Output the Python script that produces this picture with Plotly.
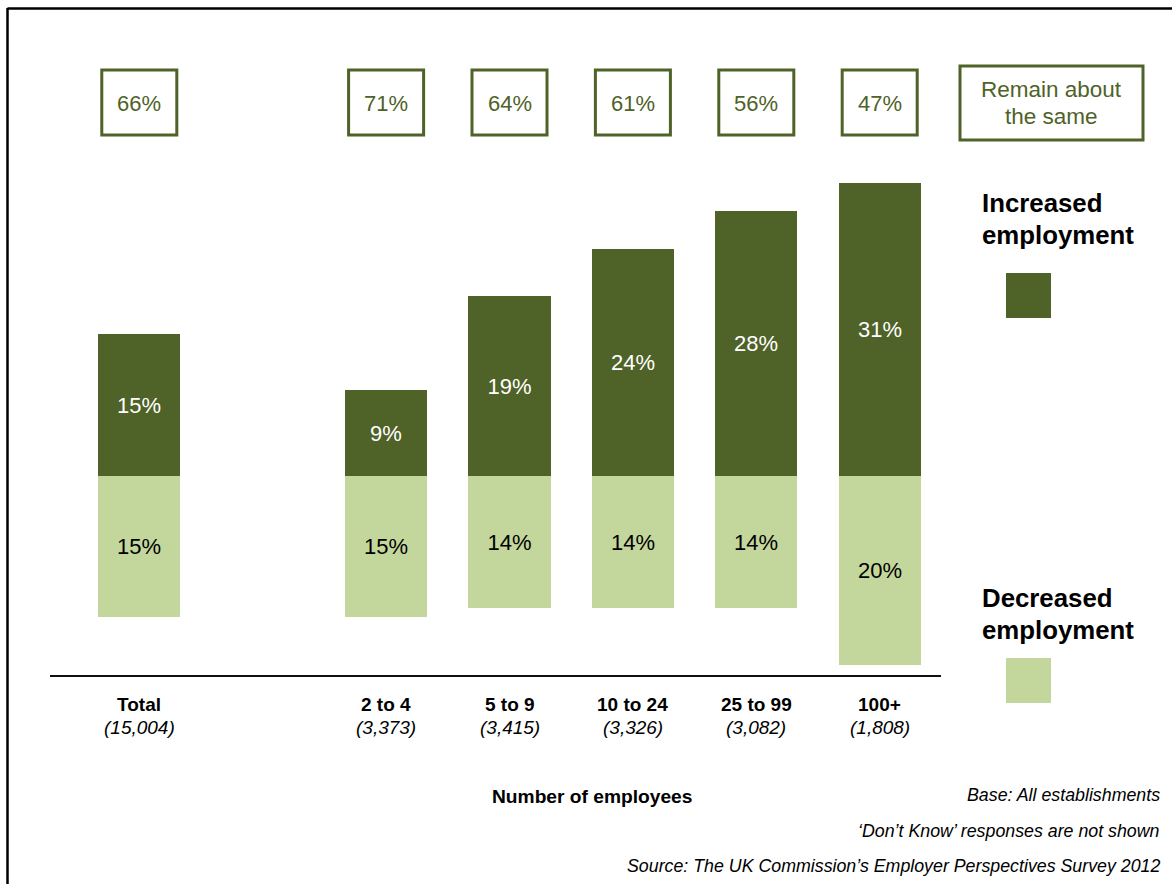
import plotly.graph_objects as go

# Establishment size bands (with base sizes) and survey results, in %
categories = ["Total", "2 to 4", "5 to 9", "10 to 24", "25 to 99", "100+"]
bases = ["(15,004)", "(3,373)", "(3,415)", "(3,326)", "(3,082)", "(1,808)"]
positions = [0, 2, 3, 4, 5, 6]
increased = [15, 9, 19, 24, 28, 31]
decreased = [15, 15, 14, 14, 14, 20]
remain_same = [66, 71, 64, 61, 56, 47]

DARK = "#4F6228"
LIGHT = "#C3D69B"
FONT = "Liberation Sans, Arial, sans-serif"
W, H = 1172, 884

# linear x/y mapping: category slot ~123.4 px, 1 % ~9.45 px, zero line at 475.5 px
X0_PX, X_STEP = 139.3, 123.4
Y0_PX, Y_STEP = 475.5, 9.45
x_range = [-X0_PX / X_STEP, (W - X0_PX) / X_STEP]
y_range = [-(H - Y0_PX) / Y_STEP, Y0_PX / Y_STEP]


def px_x(p):
    return p / W


def px_y(p):
    return 1 - p / H


fig = go.Figure()

fig.add_trace(go.Bar(
    x=positions, y=increased, width=0.665,
    marker=dict(color=DARK, line=dict(width=0)),
    text=[f"{v}%" for v in increased], textposition="inside",
    insidetextanchor="middle", textangle=0,
    textfont=dict(family=FONT, size=22, color="white"),
    name="Increased employment", showlegend=False,
))
fig.add_trace(go.Bar(
    x=positions, y=[-v for v in decreased], width=0.665,
    marker=dict(color=LIGHT, line=dict(width=0)),
    text=[f"{v}%" for v in decreased], textposition="inside",
    insidetextanchor="middle", textangle=0,
    textfont=dict(family=FONT, size=22, color="black"),
    name="Decreased employment", showlegend=False,
))

shapes = []
annotations = []


def label(x, y, text, size, color="black", xref="paper", anchor="center"):
    annotations.append(dict(x=x, y=y, xref=xref, yref="paper", text=text,
                            showarrow=False, xanchor=anchor, yanchor="middle",
                            font=dict(family=FONT, size=size, color=color)))


# outer frame (left and top edges)
shapes.append(dict(type="line", xref="paper", yref="paper",
                   x0=px_x(7.5), x1=px_x(W + 5), y0=px_y(8.5), y1=px_y(8.5),
                   line=dict(color="black", width=2.5)))
shapes.append(dict(type="line", xref="paper", yref="paper",
                   x0=px_x(7.5), x1=px_x(7.5), y0=px_y(8), y1=px_y(H + 5),
                   line=dict(color="black", width=2.5)))

# baseline under the bars
shapes.append(dict(type="line", xref="paper", yref="paper",
                   x0=px_x(50), x1=px_x(941), y0=px_y(676), y1=px_y(676),
                   line=dict(color="#111111", width=2)))

# "remain about the same" boxes above each bar
for pos, v in zip(positions, remain_same):
    shapes.append(dict(type="rect", xref="x", yref="paper",
                       x0=pos - 0.304, x1=pos + 0.304,
                       y0=px_y(135), y1=px_y(70),
                       line=dict(color=DARK, width=3), fillcolor="white"))
    label(pos, px_y(103), f"{v}%", 22, DARK, xref="x")

shapes.append(dict(type="rect", xref="paper", yref="paper",
                   x0=px_x(960), x1=px_x(1143), y0=px_y(140), y1=px_y(66),
                   line=dict(color=DARK, width=3), fillcolor="white"))
label(px_x(1051.5), px_y(90), "Remain about", 22.5, DARK)
label(px_x(1051.5), px_y(117), "the same", 22.5, DARK)

# legend-style keys on the right
label(px_x(980), px_y(203), "<b>Increased</b>", 25.8, anchor="left")
label(px_x(980), px_y(235), "<b>employment</b>", 25.8, anchor="left")
shapes.append(dict(type="rect", xref="paper", yref="paper",
                   x0=px_x(1006), x1=px_x(1051), y0=px_y(318), y1=px_y(273),
                   line=dict(width=0), fillcolor=DARK))
label(px_x(980), px_y(598), "<b>Decreased</b>", 25.8, anchor="left")
label(px_x(980), px_y(630), "<b>employment</b>", 25.8, anchor="left")
shapes.append(dict(type="rect", xref="paper", yref="paper",
                   x0=px_x(1006), x1=px_x(1051), y0=px_y(703), y1=px_y(658),
                   line=dict(width=0), fillcolor=LIGHT))

# category labels with base sizes
for pos, cat, base in zip(positions, categories, bases):
    label(pos, px_y(704), f"<b>{cat}</b>", 19, xref="x")
    label(pos, px_y(727), f"<i>{base}</i>", 19, xref="x")

label(px_x(592), px_y(796), "<b>Number of employees</b>", 19.2)

notes = [
    ("Base: All establishments", 795),
    ("\u2018Don\u2019t Know\u2019 responses are not shown", 831),
    ("Source: The UK Commission\u2019s Employer Perspectives Survey 2012", 866),
]
for txt, ypx in notes:
    label(px_x(1162), px_y(ypx), f"<i>{txt}</i>", 17.8, anchor="right")

fig.update_layout(
    width=W, height=H,
    margin=dict(l=0, r=0, t=0, b=0, pad=0),
    paper_bgcolor="white", plot_bgcolor="white",
    barmode="relative", bargap=0,
    xaxis=dict(range=x_range, visible=False, fixedrange=True),
    yaxis=dict(range=y_range, visible=False, fixedrange=True),
    shapes=shapes, annotations=annotations,
    font=dict(family=FONT),
)

fig.write_html("out.html")
